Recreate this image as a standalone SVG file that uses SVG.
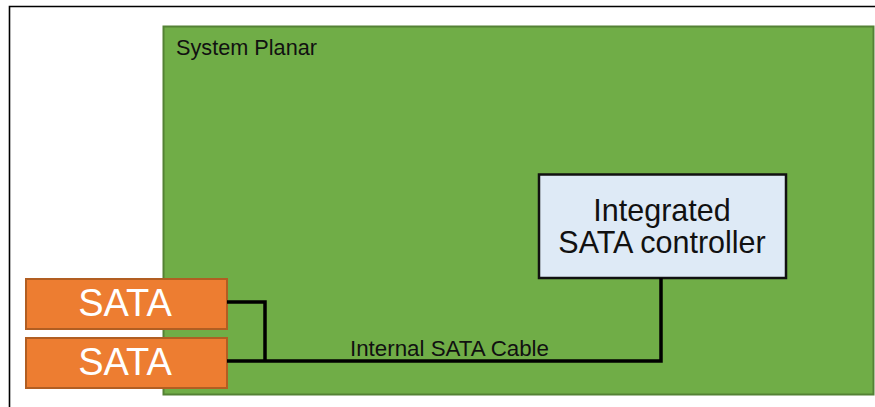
<svg xmlns="http://www.w3.org/2000/svg" width="875" height="407" viewBox="0 0 875 407">
<style>
  text { font-family: "Liberation Sans", Arial, sans-serif; }
  .sata rect { fill: #ed7d31; stroke: #b15e22; stroke-width: 2; }
  .sata text { fill: #ffffff; font-size: 38px; text-anchor: middle; }
  .wire { fill: none; stroke: #000; stroke-width: 3.5; }
  .lbl { fill: #111; font-size: 22px; }
</style>
<rect x="0" y="0" width="875" height="407" fill="#ffffff"/>
<path d="M9.5 407 V6.5 H875" fill="none" stroke="#000" stroke-width="1.6"/>
<g id="system-planar">
  <rect x="163.5" y="26.5" width="710" height="368" fill="#70ad47" stroke="#548235" stroke-width="2"/>
  <text class="lbl" x="176" y="55" textLength="141" lengthAdjust="spacingAndGlyphs">System Planar</text>
</g>
<g id="controller">
  <rect x="539" y="174.5" width="247" height="103.5" fill="#deeaf6" stroke="#111" stroke-width="2.5"/>
  <text x="662" y="221" font-size="30.5" fill="#111" text-anchor="middle">Integrated</text>
  <text x="662" y="253" font-size="30.5" fill="#111" text-anchor="middle">SATA controller</text>
</g>
<g id="sata1" class="sata">
  <rect x="26" y="279" width="201" height="50"/>
  <text x="125" y="316">SATA</text>
</g>
<g id="sata2" class="sata">
  <rect x="26" y="338" width="201" height="50"/>
  <text x="125" y="375">SATA</text>
</g>
<g id="connectors">
  <path class="wire" d="M227 302 H265 V361"/>
  <path class="wire" d="M227 361 H661 V278"/>
  <text class="lbl" x="350" y="356" textLength="199" lengthAdjust="spacingAndGlyphs">Internal SATA Cable</text>
</g>
</svg>
